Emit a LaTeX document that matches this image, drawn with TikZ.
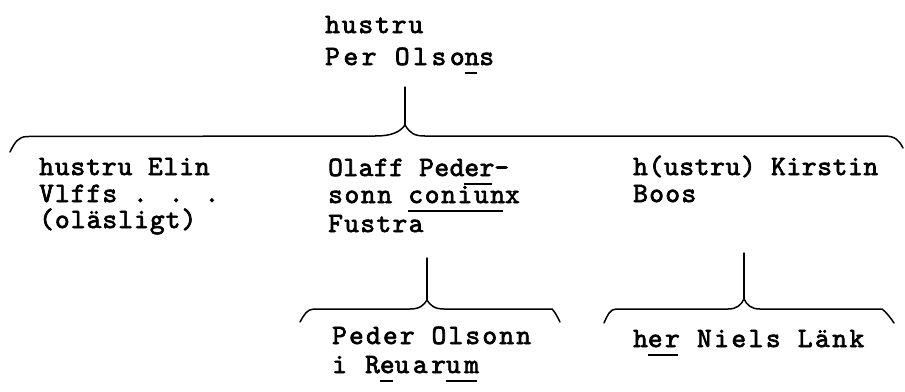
\documentclass[tikz,border=0pt]{standalone}
\usepackage{fontspec}
\newfontfamily\twfont[FakeBold=2.5,Ligatures=NoCommon]{lmmono10-regular.otf}
\newcommand\ulx[1]{\setbox0\hbox{#1}\rlap{\rule[-9pt]{\dimexpr\wd0-2pt\relax}{2pt}}\box0\relax}
\begin{document}
\begin{tikzpicture}[x=1pt,y=-1pt,
  txt/.style={anchor=base west,inner sep=0pt,
    font={\twfont\fontsize{28}{32}\selectfont\addfontfeature{LetterSpace=#1}}},
  txt/.default=5,
  bracepath/.style={line width=1.5pt,line cap=round,line join=round}]
\useasboundingbox (0,0) rectangle (905,391);
% texts
\node[txt=7] (t1) at (325,33) {hustru};
\node[txt=13] (t2) at (325,65) {Per Olso\ulx{n}s};
\node[txt=3.5] (a1) at (39,175) {hustru Elin};
\node[txt=4] (a2) at (39,202) {Vlffs . . .};
\node[txt=4] (a3) at (39,228) {(oläsligt)};
\node[txt=2] (b1) at (328,176) {Olaff Ped\ulx{er}-};
\node[txt=6] (b2) at (328,203) {sonn \ulx{coniun}x};
\node[txt=5] (b3) at (328,232) {Fustra};
\node[txt=2.5] (c1) at (633,175) {h(ustru) Kirstin};
\node[txt=5] (c2) at (633,202) {Boos};
\node[txt=8] (d1) at (332,344) {Peder Olsonn};
\node[txt=13] (d2) at (332,373) {i R\ulx{e}uar\ulx{um}};
\node[txt=9] (e1) at (633,347) {h\ulx{er} Niels Länk};
% top brace
\coordinate (s1) at (405,87);
\coordinate (p1) at (405,125);
\coordinate (l1) at (10,152);
\coordinate (r1) at (903,148);
\draw[bracepath] (s1) -- (p1);
\draw[bracepath] (l1) .. controls (15,142) and (18,137) .. (27,136.5) -- (375,136)
  .. controls (392,136) and (400,132) .. (p1)
  .. controls (410,133) and (414,136) .. (425,136) -- (884,136)
  .. controls (895,136) and (899,140) .. (r1);
% middle brace
\coordinate (s2) at (427,258);
\coordinate (p2) at (427,300);
\coordinate (l2) at (300,322);
\coordinate (r2) at (560,322);
\draw[bracepath] (s2) -- (p2);
\draw[bracepath] (l2) .. controls (304,315) and (307,309) .. (314,309) -- (410,309)
  .. controls (420,309) and (424,305) .. (p2)
  .. controls (430,305) and (434,309) .. (444,309) -- (552,309)
  .. controls (555,312) and (557,316) .. (r2);
% right brace
\coordinate (s3) at (744,253);
\coordinate (p3) at (744,299);
\coordinate (l3) at (604,323);
\coordinate (r3) at (894,323);
\draw[bracepath] (s3) -- (p3);
\draw[bracepath] (l3) .. controls (607,316) and (610,309) .. (616,309) -- (728,309)
  .. controls (737,309) and (741,305) .. (p3)
  .. controls (747,305) and (751,309) .. (760,309) -- (882,309)
  .. controls (886,312) and (890,317) .. (r3);
\end{tikzpicture}
\end{document}
